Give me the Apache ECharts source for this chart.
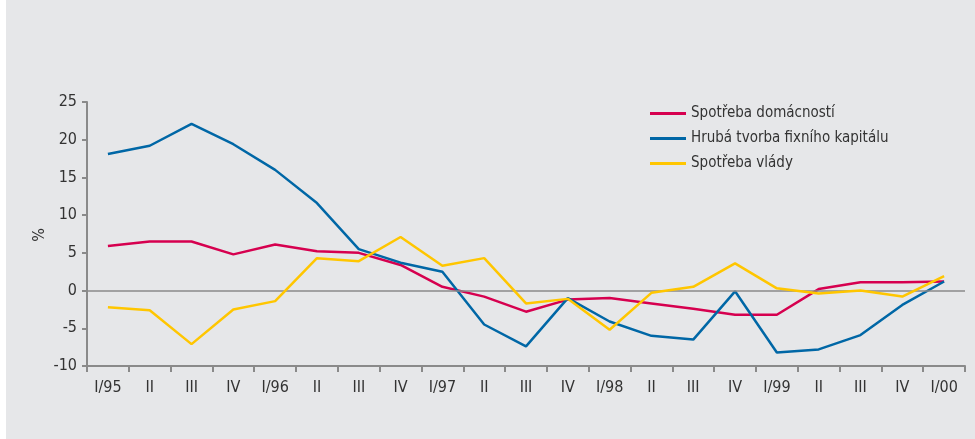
<!DOCTYPE html>
<html>
<head>
<meta charset="utf-8">
<script src="https://cdn.jsdelivr.net/npm/echarts@6/dist/echarts.min.js"></script>
<style>
html, body { margin: 0; padding: 0; background: #ffffff; }
#chart { position: absolute; left: 6px; top: 0; width: 969px; height: 439px; background: #e6e7e9; }
</style>
</head>
<body>
<div id="chart"></div>
<script>
// kvartály
var categories = ['I/95', 'II', 'III', 'IV', 'I/96', 'II', 'III', 'IV', 'I/97', 'II', 'III',
	'IV', 'I/98', 'II', 'III', 'IV', 'I/99', 'II', 'III', 'IV', 'I/00'];
var spotrebaDomacnosti = [5.9, 6.5, 6.5, 4.8, 6.1, 5.2, 5.0, 3.4, 0.5, -0.8, -2.8,
	-1.2, -1.0, -1.7, -2.4, -3.2, -3.2, 0.2, 1.1, 1.1, 1.2];
var hrubaTvorba = [18.1, 19.2, 22.1, 19.4, 16.0, 11.6, 5.5, 3.7, 2.5, -4.5, -7.4,
	-1.0, -4.1, -6.0, -6.5, -0.1, -8.2, -7.8, -5.9, -1.9, 1.2];
var spotrebaVlady = [-2.2, -2.6, -7.1, -2.5, -1.4, 4.3, 3.9, 7.1, 3.3, 4.3, -1.7,
	-1.1, -5.2, -0.3, 0.5, 3.6, 0.3, -0.4, 0.0, -0.8, 1.9];
var seriesNames = ['Spotřeba domácností', 'Hrubá tvorba fixního kapitálu', 'Spotřeba vlády'];

var fontFamily = '"Liberation Sans Narrow", "DejaVu Sans Condensed", "Open Sans", sans-serif';
var chart = echarts.init(document.getElementById('chart'));
chart.setOption({
	animation : false,
	color : [ '#d6004f', '#0067a6', '#ffc600' ],
	grid : {
		left : 81,
		right : 10,
		top : 102,
		bottom : 73
	},
	graphic : [ { // popisek osy Y
		type : 'text',
		x : 34,
		y : 235,
		rotation : Math.PI / 2,
		style : {
			text : '%',
			fontFamily : fontFamily,
			fontSize : 16,
			fill : '#333333',
			align : 'center',
			verticalAlign : 'middle'
		}
	} ],
	legend : {
		orient : 'vertical',
		left : 639,
		top : 101,
		itemWidth : 36,
		itemHeight : 3,
		itemGap : 10,
		icon : 'rect',
		textStyle : {
			fontFamily : fontFamily,
			fontSize : 15,
			color : '#333333',
			padding : [ 0, 0, 0, 0 ]
		},
		data : seriesNames
	},
	xAxis : {
		type : 'category',
		boundaryGap : true,
		data : categories,
		axisLine : {
			onZero : false,
			lineStyle : {
				color : '#8a8a8a',
				width : 2
			}
		},
		axisTick : {
			show : true,
			length : 6,
			lineStyle : {
				color : '#8a8a8a',
				width : 2
			}
		},
		axisLabel : {
			interval : 0,
			margin : 14,
			fontFamily : fontFamily,
			fontSize : 16,
			color : '#333333'
		}
	},
	yAxis : {
		type : 'value',
		min : -10,
		max : 25,
		interval : 5,
		axisLine : {
			show : true,
			lineStyle : {
				color : '#8a8a8a',
				width : 2
			}
		},
		axisTick : {
			show : true,
			length : 5,
			lineStyle : {
				color : '#8a8a8a',
				width : 2
			}
		},
		axisLabel : {
			margin : 10,
			fontFamily : fontFamily,
			fontSize : 16,
			color : '#333333'
		},
		splitLine : {
			show : false
		}
	},
	series : [ {
		name : seriesNames[0],
		type : 'line',
		data : spotrebaDomacnosti,
		symbol : 'none',
		lineStyle : { width : 2.5 },
		markLine : {
			silent : true,
			symbol : 'none',
			label : { show : false },
			lineStyle : { color : '#8a8a8a', width : 1.5, type : 'solid' },
			data : [ { yAxis : 0 } ]
		},
		z : 3
	}, {
		name : seriesNames[1],
		type : 'line',
		data : hrubaTvorba,
		symbol : 'none',
		lineStyle : { width : 2.5 },
		z : 4
	}, {
		name : seriesNames[2],
		type : 'line',
		data : spotrebaVlady,
		symbol : 'none',
		lineStyle : { width : 2.5 },
		z : 5
	} ]
});
</script>
</body>
</html>
